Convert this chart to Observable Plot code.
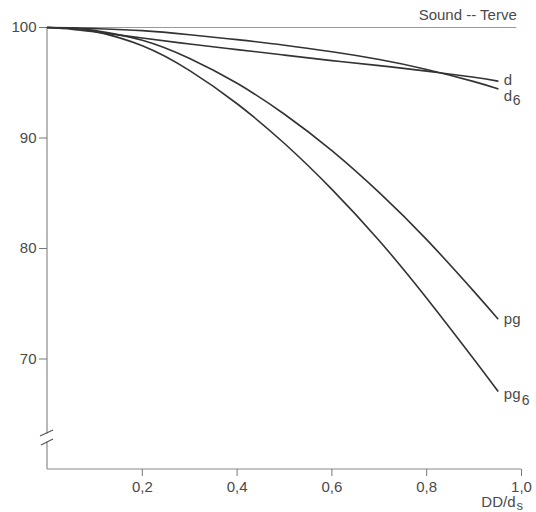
<!DOCTYPE html>
<html>
<head>
<meta charset="utf-8">
<script src="https://cdn.jsdelivr.net/npm/d3@7"></script>
<script src="https://cdn.jsdelivr.net/npm/@observablehq/plot@0.6"></script>
<style>
  html, body { margin: 0; padding: 0; background: #fff; }
  #chart svg { display: block; }
</style>
</head>
<body>
<div id="chart"></div>
<script>
// Relative ratio (x) and percentage (y)
const xs      = [0, 0.05, 0.1, 0.2, 0.3, 0.4, 0.5, 0.6, 0.7, 0.8, 0.9, 0.95];
const dVals   = [100, 99.85, 99.6, 99.05, 98.5, 98.0, 97.5, 97.0, 96.55, 96.05, 95.5, 95.15];
const d6Vals  = [100, 99.97, 99.9, 99.72, 99.35, 98.9, 98.4, 97.8, 97.1, 96.2, 95.1, 94.45];
const pgVals  = [100, 99.95, 99.72, 98.85, 97.2, 94.95, 92.15, 88.85, 85.05, 80.8, 76.1, 73.65];
const pg6Vals = [100, 99.95, 99.65, 98.35, 96.1, 93.1, 89.5, 85.35, 80.7, 75.5, 69.95, 67.1];

const seriesNames = ["d", "d6", "pg", "pg6"];
const seriesLabel = ["d", "d", "pg", "pg"];
const seriesSub   = ["", "6", "", "6"];
const seriesValues = [dVals, d6Vals, pgVals, pg6Vals];

const soundLabel = "Sound -- Terve";
const soundX = [0, 0.99];
const soundY = 100;

const xTicks = [0.2, 0.4, 0.6, 0.8, 1.0];
const yTicks = [70, 80, 90, 100];
const xLabelMain = "DD/d";
const xLabelSub = "s";
const breakY = 62.9;

const rows = [];
seriesNames.forEach((s, i) => xs.forEach((x, j) => rows.push({series: s, x, y: seriesValues[i][j]})));
const ends = seriesNames.map((s, i) => ({
  series: s, x: xs[xs.length - 1], y: seriesValues[i][xs.length - 1],
  label: seriesLabel[i], sub: seriesSub[i]
}));
// styling offsets for the end labels (pixels)
const labelStyle = {
  d:   {dy: -1, subDx: 0,  subDy: 0},
  d6:  {dy: 7,  subDx: 9,  subDy: 12},
  pg:  {dy: 1,  subDx: 0,  subDy: 0},
  pg6: {dy: 3,  subDx: 18, subDy: 9}
};

const textColor = "#4a4a4a";
const fontFam = "'Liberation Sans', Arial, sans-serif";

const axisLines = (index, scales) => {
  const g = d3.create("svg:g").attr("stroke", "#8a8a8a").attr("stroke-width", 1.2).attr("fill", "none");
  const x0 = scales.x(0), x1 = scales.x(1);
  const yTop = scales.y(100), yBot = scales.y(60), yb = scales.y(breakY);
  g.append("line").attr("x1", x0).attr("x2", x1).attr("y1", yBot).attr("y2", yBot);
  g.append("line").attr("x1", x0).attr("x2", x0).attr("y1", yTop).attr("y2", yb - 3.5);
  g.append("line").attr("x1", x0).attr("x2", x0).attr("y1", yb + 4.5).attr("y2", yBot);
  g.append("line").attr("stroke", "#555").attr("x1", x0 - 7).attr("y1", yb - 1).attr("x2", x0 + 6).attr("y2", yb - 7);
  g.append("line").attr("stroke", "#555").attr("x1", x0 - 6).attr("y1", yb + 8).attr("x2", x0 + 6).attr("y2", yb + 2);
  return g.node();
};

const labelMarks = [];
ends.forEach(e => {
  const st = labelStyle[e.series];
  labelMarks.push(Plot.text([e], {x: "x", y: "y", text: "label", textAnchor: "start", dx: 6, dy: st.dy,
    fill: textColor, fontSize: 15}));
  if (e.sub) labelMarks.push(Plot.text([e], {x: "x", y: "y", text: "sub", textAnchor: "start",
    dx: 6 + st.subDx, dy: st.subDy, fill: textColor, fontSize: 14}));
});

const chart = Plot.plot({
  width: 536,
  height: 512,
  marginLeft: 47,
  marginRight: 15,
  marginTop: 27,
  marginBottom: 43,
  style: {fontFamily: fontFam, fontSize: "15px", color: textColor, background: "#fff"},
  x: {domain: [0, 1]},
  y: {domain: [60, 100]},
  marks: [
    axisLines,
    Plot.axisY({ticks: yTicks, tickSize: 8, tickPadding: 3, label: null, stroke: "#777", fill: textColor, fontSize: 15}),
    Plot.axisX({ticks: xTicks, tickSize: 7, tickPadding: 5, label: null, stroke: "#777", fill: textColor, fontSize: 15,
      tickFormat: d => d.toFixed(1).replace(".", ",")}),
    Plot.ruleY([soundY], {x1: soundX[0], x2: soundX[1], stroke: "#999", strokeWidth: 1.2}),
    Plot.line(rows, {x: "x", y: "y", z: "series", curve: "natural", stroke: "#333", strokeWidth: 1.6}),
    ...labelMarks,
    Plot.text([{x: soundX[1], y: soundY, t: soundLabel}], {x: "x", y: "y", text: "t", textAnchor: "end", dy: -12,
      fill: textColor, fontSize: 15, letterSpacing: "0.8px"}),
    Plot.text([{x: 1, y: 60, t: xLabelMain}], {x: "x", y: "y", text: "t", textAnchor: "end", dx: -6, dy: 33,
      fill: textColor, fontSize: 15}),
    Plot.text([{x: 1, y: 60, t: xLabelSub}], {x: "x", y: "y", text: "t", textAnchor: "start", dx: -5, dy: 36,
      fill: textColor, fontSize: 13})
  ]
});

document.getElementById("chart").appendChild(chart);
</script>
</body>
</html>
